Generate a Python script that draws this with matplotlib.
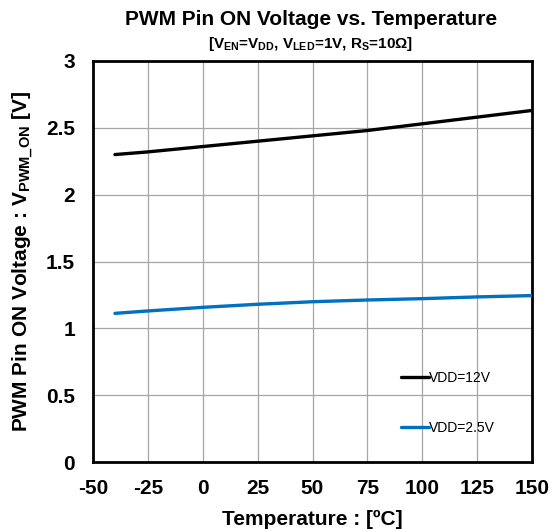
import matplotlib
matplotlib.use("Agg")
import matplotlib.pyplot as plt

temps = [-40, -25, 0, 25, 50, 75, 100, 125, 150]
v_12v = [2.30, 2.32, 2.36, 2.40, 2.44, 2.48, 2.53, 2.58, 2.63]
v_2p5v = [1.112, 1.13, 1.157, 1.18, 1.199, 1.212, 1.222, 1.235, 1.245]
series_labels = ["VDD=12V", "VDD=2.5V"]
xticks = [-50, -25, 0, 25, 50, 75, 100, 125, 150]
yticks = [0, 0.5, 1, 1.5, 2, 2.5, 3]
yticklabels = ["0", "0.5", "1", "1.5", "2", "2.5", "3"]

plt.rcParams['font.family'] = ['Liberation Sans', 'DejaVu Sans']
plt.rcParams['mathtext.fontset'] = 'custom'
plt.rcParams['mathtext.rm'] = 'Liberation Sans:bold'
plt.rcParams['mathtext.it'] = 'Liberation Sans:bold'
plt.rcParams['mathtext.bf'] = 'Liberation Sans:bold'
plt.rcParams['mathtext.default'] = 'rm'

fig = plt.figure(figsize=(5.58, 5.29), dpi=100)
ax = fig.add_axes([93/558, 1-462/529, (532-93)/558, (462-61)/529])

l1, = ax.plot(temps, v_12v, color='black', lw=2.4, solid_capstyle='round', zorder=3)
l2, = ax.plot(temps, v_2p5v, color='#0070C0', lw=2.4, solid_capstyle='round', zorder=3)

ax.set_xlim(-50, 150)
ax.set_ylim(0, 3)
ax.set_xticks(xticks)
ax.set_xticklabels([str(t) for t in xticks])
ax.set_yticks(yticks)
ax.set_yticklabels(yticklabels)
ax.tick_params(length=0, labelsize=15)
ax.tick_params(axis='x', pad=12)
ax.tick_params(axis='y', pad=13)
for lab in ax.get_xticklabels() + ax.get_yticklabels():
    lab.set_fontweight('bold')
ax.grid(True, color='#a6a6a6', lw=0.9)
ax.set_axisbelow(True)
for s in ax.spines.values():
    s.set_linewidth(2.0)
    s.set_color('black')

ax.set_xlabel("Temperature : [ºC]", fontsize=15, fontweight='bold', labelpad=9)
ax.set_ylabel(r"PWM Pin ON Voltage : V$_{\mathrm{PWM\_ON}}$ [V]", fontsize=15, fontweight='bold', labelpad=8)

fig.text(0.557, 0.964, "PWM Pin ON Voltage vs. Temperature", ha='center', va='center',
         fontsize=15, fontweight='bold')
fig.text(0.557, 0.917, r"[V$_{EN}$=V$_{DD}$, V$_{LED}$=1V, R$_{S}$=10Ω]", ha='center', va='center',
         fontsize=11, fontweight='bold')

leg = ax.legend([l1, l2], series_labels, loc='center left', bbox_to_anchor=(0.69, 0.148),
                frameon=False, fontsize=10, handlelength=2.0, handletextpad=0.0,
                labelspacing=2.6, borderaxespad=0)

fig.savefig("out.png", dpi=100)
